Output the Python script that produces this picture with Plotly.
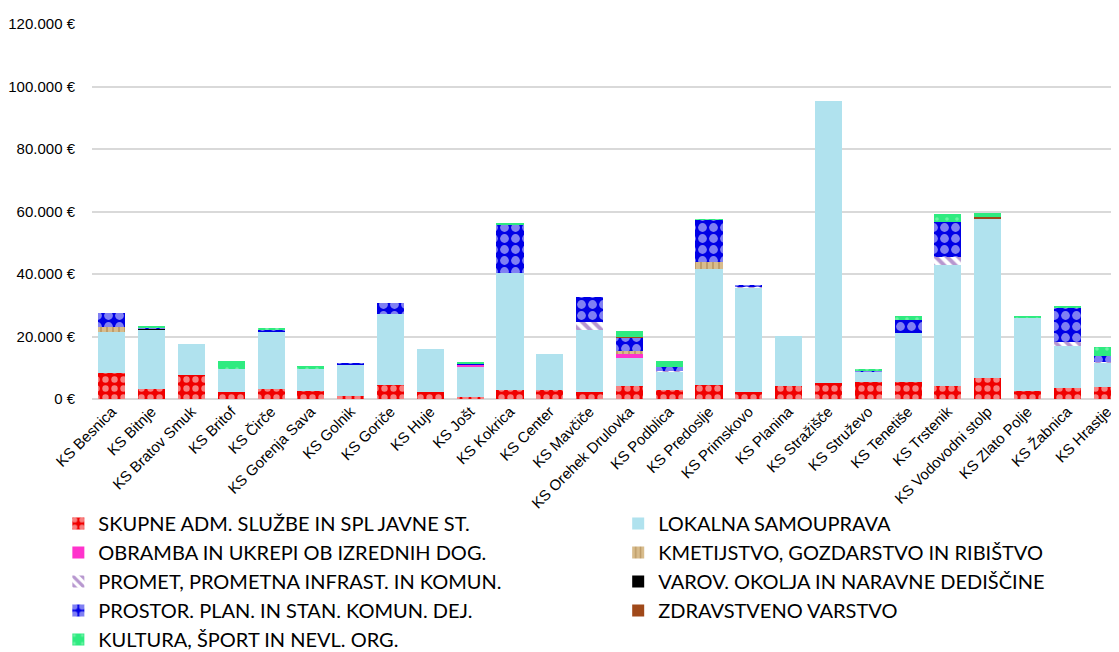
import plotly.graph_objects as go

categories = ["KS Besnica", "KS Bitnje", "KS Bratov Smuk", "KS Britof", "KS Čirče", "KS Gorenja Sava",
              "KS Golnik", "KS Goriče", "KS Huje", "KS Jošt", "KS Kokrica", "KS Center", "KS Mavčiče",
              "KS Orehek Drulovka", "KS Podblica", "KS Predoslje", "KS Primskovo", "KS Planina",
              "KS Stražišče", "KS Struževo", "KS Tenetiše", "KS Trstenik", "KS Vodovodni stolp",
              "KS Zlato Polje", "KS Žabnica", "KS Hrastje"]

skupne =      [8300, 3200, 7700, 2200, 3200, 2600, 1000, 4500, 2200, 600, 2900, 2900, 2200,
               4200, 2900, 4500, 2200, 4200, 5100, 5400, 5400, 4200, 6700, 2600, 3500, 3800]
lokalna =     [13100, 19000, 9900, 7400, 18200, 7000, 9900, 22700, 13800, 9700, 37500, 11500, 20000,
               8900, 5800, 37100, 33500, 16000, 90300, 3300, 15800, 38700, 50900, 23300, 13600, 7800]
obramba =     [0, 0, 0, 0, 0, 0, 0, 0, 0, 700, 0, 0, 0,
               1400, 0, 0, 0, 0, 0, 0, 0, 0, 0, 0, 0, 0]
kmetijstvo =  [1600, 0, 0, 0, 0, 0, 0, 0, 0, 0, 0, 0, 0,
               1000, 0, 2300, 0, 0, 0, 0, 0, 0, 0, 0, 0, 0]
promet =      [0, 0, 0, 0, 0, 0, 0, 0, 0, 0, 0, 0, 2500,
               0, 300, 0, 200, 0, 0, 0, 0, 2600, 0, 0, 1200, 300]
varov =       [0, 200, 0, 0, 0, 0, 0, 0, 0, 0, 0, 0, 0,
               0, 0, 0, 0, 0, 0, 0, 0, 0, 300, 0, 0, 0]
prostor =     [4500, 500, 0, 0, 800, 0, 600, 3500, 0, 300, 15300, 0, 7900,
               4100, 1300, 13400, 300, 0, 0, 400, 4100, 11100, 0, 0, 11000, 2000]
zdravstveno = [0, 0, 0, 0, 0, 0, 0, 0, 0, 0, 0, 0, 0,
               300, 0, 0, 0, 0, 0, 0, 0, 0, 300, 0, 0, 0]
kultura =     [0, 300, 0, 2600, 500, 1000, 0, 0, 0, 600, 600, 0, 0,
               2000, 1900, 300, 0, 0, 0, 500, 1300, 2600, 1300, 700, 300, 2800]

y_tickvals = [0, 20000, 40000, 60000, 80000, 100000, 120000]
y_ticktext = ["0 €", "20.000 €", "40.000 €", "60.000 €", "80.000 €", "100.000 €", "120.000 €"]

# (name, values, marker, legend column)
series = [
    ("SKUPNE ADM. SLUŽBE IN SPL JAVNE ST.", skupne,
     dict(color="#FF0000", pattern=dict(shape=".", fgcolor="#FFFFFF", bgcolor="#F00000", size=9, solidity=0.4)), "legend"),
    ("LOKALNA SAMOUPRAVA", lokalna, dict(color="#B0E2EE"), "legend2"),
    ("OBRAMBA IN UKREPI OB IZREDNIH DOG.", obramba, dict(color="#FF33CC"), "legend"),
    ("KMETIJSTVO, GOZDARSTVO IN RIBIŠTVO", kmetijstvo,
     dict(color="#C9A56E", pattern=dict(shape="|", fgcolor="#A07840", bgcolor="#D8BC8C", size=6, solidity=0.3)), "legend2"),
    ("PROMET, PROMETNA INFRAST. IN KOMUN.", promet,
     dict(color="#7030A0", pattern=dict(shape="\\", fgcolor="#7030A0", bgcolor="#FFFFFF", size=8, solidity=0.5)), "legend"),
    ("VAROV. OKOLJA IN NARAVNE DEDIŠČINE", varov, dict(color="#000000"), "legend2"),
    ("PROSTOR. PLAN. IN STAN. KOMUN. DEJ.", prostor,
     dict(color="#0000EE", pattern=dict(shape=".", fgcolor="#FFFFFF", bgcolor="#0000E6", size=11, solidity=0.5)), "legend"),
    ("ZDRAVSTVENO VARSTVO", zdravstveno, dict(color="#A0491A"), "legend2"),
    ("KULTURA, ŠPORT IN NEVL. ORG.", kultura,
     dict(color="#2EEB80", pattern=dict(shape=".", fgcolor="#A8F8C8", bgcolor="#2EEB80", size=10, solidity=0.1)), "legend"),
]

fig = go.Figure()
for name, vals, marker, leg in series:
    marker = dict(marker)
    marker["line"] = dict(width=0)
    fig.add_trace(go.Bar(x=categories, y=vals, name=name, marker=marker, legend=leg))

legend_font = dict(family="Lato, Carlito, sans-serif", size=20, color="#000000")
legend_y = 1 - 496 / 652
fig.update_layout(
    width=1119, height=652,
    barmode="stack", bargap=0.32,
    plot_bgcolor="white", paper_bgcolor="white",
    margin=dict(l=84, r=0, t=16, b=261, autoexpand=False),
    font=dict(family="Liberation Sans, Arial, sans-serif", size=15, color="#000000"),
    showlegend=True,
    legend=dict(
        orientation="v", xref="container", yref="container",
        x=0.045, y=legend_y, xanchor="left", yanchor="top",
        font=legend_font, traceorder="normal", itemwidth=30,
    ),
    legend2=dict(
        orientation="v", xref="container", yref="container",
        x=0.5453, y=legend_y, xanchor="left", yanchor="top",
        font=legend_font, traceorder="normal", itemwidth=30,
    ),
)
fig.update_xaxes(
    range=[-0.5, 25.5], tickangle=-45, showgrid=False, showline=False, automargin=False,
    tickfont=dict(family="Liberation Sans, Arial, sans-serif", size=15),
)
fig.update_yaxes(
    range=[0, 120000], tickvals=y_tickvals, ticktext=y_ticktext, automargin=False,
    showgrid=True, gridcolor="#D9D9D9", gridwidth=2,
    zeroline=True, zerolinecolor="#D9D9D9", zerolinewidth=2,
    ticklabelstandoff=16,
    tickfont=dict(family="Liberation Sans, Arial, sans-serif", size=15),
)

fig.write_html("out.html")
